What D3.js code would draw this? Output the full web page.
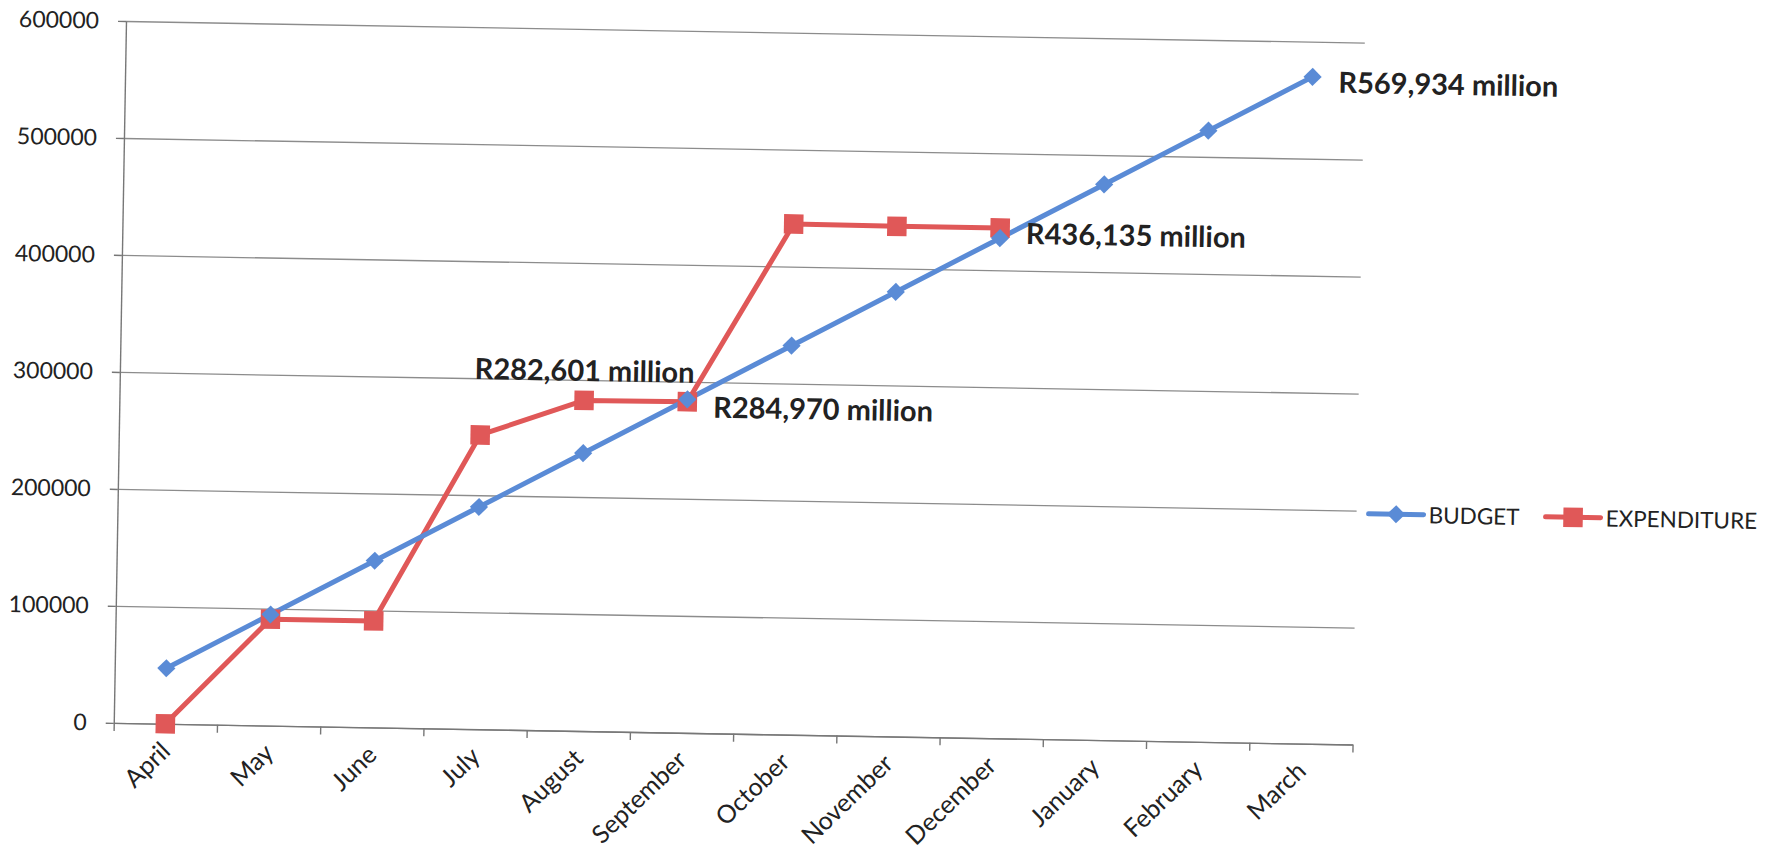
<!DOCTYPE html>
<html>
<head>
<meta charset="utf-8">
<script src="https://cdn.jsdelivr.net/npm/d3@7"></script>
<style>
  body { margin: 0; background: #ffffff; }
  text { font-family: Lato, "Open Sans", "DejaVu Sans", sans-serif; fill: #222; }
</style>
</head>
<body>
<svg id="chart" width="1780" height="854"></svg>
<script>
// ---------- data ----------
const months = ["April", "May", "June", "July", "August", "September",
                "October", "November", "December", "January", "February", "March"];
const budget = [47495, 94989, 142484, 189978, 237473, 284970,
                332462, 379956, 427451, 474945, 522440, 569934];
const expenditure = [0, 91000, 91000, 251500, 282601, 283000,
                     436500, 436000, 436135, null, null, null];
const yTicks = [0, 100000, 200000, 300000, 400000, 500000, 600000];
const seriesNames = ["BUDGET", "EXPENDITURE"];
const annText = ["R282,601 million", "R284,970 million", "R436,135 million", "R569,934 million"];
const annMonth = ["August", "September", "December", "March"];
const annSeries = ["EXPENDITURE", "EXPENDITURE", "EXPENDITURE", "BUDGET"];

// ---------- layout ----------
const W = 1239, H = 702;
const blue = "#5a8bd6", red = "#e05858";
const svg = d3.select("#chart");
const g = svg.append("g").attr("transform", "translate(126,21) rotate(1.0)");

const x = d3.scaleBand().domain(months).range([0, W]);
const xc = m => x(m) + x.bandwidth() / 2;
const xEdge = d3.scaleLinear().domain([0, months.length]).range([0, W]);
const y = d3.scaleLinear().domain([0, 600000]).range([H, 0]);

// gridlines
g.append("g")
  .call(d3.axisLeft(y).tickValues(yTicks).tickSize(-W).tickFormat(""))
  .call(a => a.select(".domain").remove())
  .call(a => a.selectAll("line").attr("stroke", "#8c8c8c").attr("stroke-width", 1.3));

// y axis
g.append("g")
  .call(d3.axisLeft(y).tickValues(yTicks).tickSize(8).tickPadding(19).tickSizeOuter(0).tickFormat(d => String(d)))
  .call(a => a.select(".domain").attr("stroke", "#777").attr("stroke-width", 1.4))
  .call(a => a.selectAll("line").attr("stroke", "#777").attr("stroke-width", 1.4))
  .call(a => a.selectAll("text").attr("font-size", 23).attr("fill", "#222")
        .style("font-family", "Lato, 'Open Sans', sans-serif"));

// x axis (ticks at category boundaries)
const xAxisG = g.append("g").attr("transform", `translate(0,${H})`)
  .call(d3.axisBottom(xEdge).tickValues(d3.range(months.length + 1)).tickSize(8).tickSizeOuter(0).tickFormat(""))
  .call(a => a.select(".domain").attr("stroke", "#777").attr("stroke-width", 1.4))
  .call(a => a.selectAll("line").attr("stroke", "#777").attr("stroke-width", 1.4));

g.append("g").selectAll("text").data(months).join("text")
  .attr("transform", d => `translate(${xc(d) + 7},${H + 29}) rotate(-45)`)
  .attr("text-anchor", "end")
  .attr("font-size", 25)
  .text(d => d);

// lines
const budgetPts = months.map((m, i) => ({ m, v: budget[i] }));
const expPts = months.map((m, i) => ({ m, v: expenditure[i] }));
const line = d3.line().defined(d => d.v !== null).x(d => xc(d.m)).y(d => y(d.v));

g.append("path").datum(expPts).attr("d", line)
  .attr("fill", "none").attr("stroke", red).attr("stroke-width", 5)
  .attr("stroke-linejoin", "round").attr("stroke-linecap", "round");
g.append("path").datum(budgetPts).attr("d", line)
  .attr("fill", "none").attr("stroke", blue).attr("stroke-width", 5)
  .attr("stroke-linejoin", "round").attr("stroke-linecap", "round");

const diamond = d3.symbol().type(d3.symbolSquare).size(165);
const square = d3.symbol().type(d3.symbolSquare).size(380);

g.append("g").selectAll("path").data(expPts.filter(d => d.v !== null)).join("path")
  .attr("d", square)
  .attr("transform", d => `translate(${xc(d.m)},${y(d.v)})`)
  .attr("fill", red);
g.append("g").selectAll("path").data(budgetPts).join("path")
  .attr("d", diamond)
  .attr("transform", d => `translate(${xc(d.m)},${y(d.v)}) rotate(45)`)
  .attr("fill", blue);

// annotations
annText.forEach((t, i) => {
  const m = annMonth[i];
  const idx = months.indexOf(m);
  const v = annSeries[i] === "BUDGET" ? budget[idx] : expenditure[idx];
  const px = xc(m), py = y(v);
  const above = (m === "August");
  g.append("text")
    .attr("x", above ? px : px + 26)
    .attr("y", above ? py - 31 : py + 4)
    .attr("text-anchor", above ? "middle" : "start")
    .attr("dominant-baseline", "central")
    .attr("font-size", 29)
    .attr("font-weight", "bold")
    .attr("fill", "#1a1a1a")
    .text(t);
});

// legend
const legX = [1251, 1428];
const legY = 471;
seriesNames.forEach((name, i) => {
  const lg = g.append("g").attr("transform", `translate(${legX[i]},${legY})`);
  const col = i === 0 ? blue : red;
  lg.append("line").attr("x1", 0).attr("x2", 55).attr("y1", 0).attr("y2", 0)
    .attr("stroke", col).attr("stroke-width", 5).attr("stroke-linecap", "round");
  lg.append("path")
    .attr("d", i === 0 ? diamond : square)
    .attr("transform", i === 0 ? "translate(27.5,0) rotate(45)" : "translate(27.5,0)")
    .attr("fill", col);
  lg.append("text").attr("x", 60).attr("y", 0)
    .attr("dominant-baseline", "central")
    .attr("font-size", 22.5)
    .text(name);
});
</script>
</body>
</html>
